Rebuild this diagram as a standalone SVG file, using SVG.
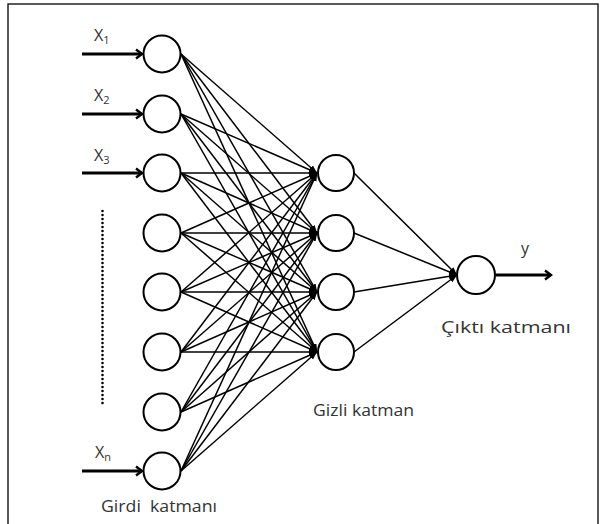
<svg xmlns="http://www.w3.org/2000/svg" width="604" height="524" viewBox="0 0 604 524">
<style>
.node{fill:#fff;stroke:#000;stroke-width:2}
.conn{stroke:#000;stroke-width:1.5;fill:none}
.inarr{stroke:#000;stroke-width:2.8;fill:none}
.lbl{font-family:"Open Sans",Lato,"Liberation Sans",sans-serif;fill:#333;font-size:16.5px}
.x{font-size:16px}
.sub{font-size:11px}
</style>
<defs>
<marker id="fa" markerUnits="userSpaceOnUse" markerWidth="10" markerHeight="8" refX="8" refY="3" orient="auto">
<path d="M0,0 L8,3 L0,6 z" fill="#000"/>
</marker>
<marker id="ca" markerUnits="userSpaceOnUse" markerWidth="12" markerHeight="14" refX="7" refY="6" orient="auto">
<path d="M1,1.5 L7,6 L1,10.5" fill="none" stroke="#000" stroke-width="2.4"/>
</marker>
</defs>
<rect width="604" height="524" fill="#fff"/>
<path d="M8,524 V4 H598 V524" fill="none" stroke="#222" stroke-width="1.5"/>
<g id="connectors">
<g class="inarr">
<line x1="82" y1="54" x2="142" y2="54" marker-end="url(#ca)"/>
<line x1="82" y1="114" x2="142" y2="114" marker-end="url(#ca)"/>
<line x1="82" y1="173" x2="142" y2="173" marker-end="url(#ca)"/>
<line x1="82" y1="471" x2="142" y2="471" marker-end="url(#ca)"/>
<line x1="496" y1="275" x2="551" y2="275" marker-end="url(#ca)"/>
</g>
<g class="conn" marker-end="url(#fa)">
<line x1="181" y1="54" x2="317" y2="173"/><line x1="181" y1="54" x2="317" y2="233"/><line x1="181" y1="54" x2="317" y2="292"/><line x1="181" y1="54" x2="317" y2="352"/>
<line x1="181" y1="114" x2="317" y2="173"/><line x1="181" y1="114" x2="317" y2="233"/><line x1="181" y1="114" x2="317" y2="292"/><line x1="181" y1="114" x2="317" y2="352"/>
<line x1="181" y1="173" x2="317" y2="173"/><line x1="181" y1="173" x2="317" y2="233"/><line x1="181" y1="173" x2="317" y2="292"/><line x1="181" y1="173" x2="317" y2="352"/>
<line x1="181" y1="233" x2="317" y2="173"/><line x1="181" y1="233" x2="317" y2="233"/><line x1="181" y1="233" x2="317" y2="292"/><line x1="181" y1="233" x2="317" y2="352"/>
<line x1="181" y1="292" x2="317" y2="173"/><line x1="181" y1="292" x2="317" y2="233"/><line x1="181" y1="292" x2="317" y2="292"/><line x1="181" y1="292" x2="317" y2="352"/>
<line x1="181" y1="352" x2="317" y2="173"/><line x1="181" y1="352" x2="317" y2="233"/><line x1="181" y1="352" x2="317" y2="292"/><line x1="181" y1="352" x2="317" y2="352"/>
<line x1="181" y1="412" x2="317" y2="173"/><line x1="181" y1="412" x2="317" y2="233"/><line x1="181" y1="412" x2="317" y2="292"/><line x1="181" y1="412" x2="317" y2="352"/>
<line x1="181" y1="471" x2="317" y2="173"/><line x1="181" y1="471" x2="317" y2="233"/><line x1="181" y1="471" x2="317" y2="292"/><line x1="181" y1="471" x2="317" y2="352"/>
<line x1="354" y1="173" x2="457" y2="275"/><line x1="354" y1="233" x2="457" y2="275"/><line x1="354" y1="292" x2="457" y2="275"/><line x1="354" y1="352" x2="457" y2="275"/>
</g>
</g>
<line id="dots" x1="102.5" y1="211" x2="102.5" y2="407" stroke="#000" stroke-width="2.6" stroke-dasharray="0 4" stroke-linecap="round"/>
<g id="in1"><circle class="node" cx="162" cy="54" r="18.5"/><text class="lbl x" x="94" y="41">X<tspan class="sub" dy="3">1</tspan></text></g>
<g id="in2"><circle class="node" cx="162" cy="114" r="18.5"/><text class="lbl x" x="94" y="101">X<tspan class="sub" dy="3">2</tspan></text></g>
<g id="in3"><circle class="node" cx="162" cy="173" r="18.5"/><text class="lbl x" x="94" y="161">X<tspan class="sub" dy="3">3</tspan></text></g>
<g id="in4"><circle class="node" cx="162" cy="233" r="18.5"/></g>
<g id="in5"><circle class="node" cx="162" cy="292" r="18.5"/></g>
<g id="in6"><circle class="node" cx="162" cy="352" r="18.5"/></g>
<g id="in7"><circle class="node" cx="162" cy="412" r="18.5"/></g>
<g id="inN"><circle class="node" cx="162" cy="471" r="18.5"/><text class="lbl x" x="95" y="458">X<tspan class="sub" dy="3">n</tspan></text></g>
<g id="h1"><circle class="node" cx="336" cy="173" r="18"/></g>
<g id="h2"><circle class="node" cx="336" cy="233" r="18"/></g>
<g id="h3"><circle class="node" cx="336" cy="292" r="18"/></g>
<g id="h4"><circle class="node" cx="336" cy="352" r="18"/></g>
<g id="out"><circle class="node" cx="476" cy="275" r="19"/><text class="lbl x" x="521" y="254">y</text></g>
<text class="lbl" x="101" y="512" xml:space="preserve" textLength="116" lengthAdjust="spacingAndGlyphs">Girdi  katmanı</text>
<text class="lbl" x="313" y="416" textLength="101" lengthAdjust="spacingAndGlyphs">Gizli katman</text>
<text class="lbl" x="441" y="333" textLength="130" lengthAdjust="spacingAndGlyphs">Çıktı katmanı</text>
</svg>
